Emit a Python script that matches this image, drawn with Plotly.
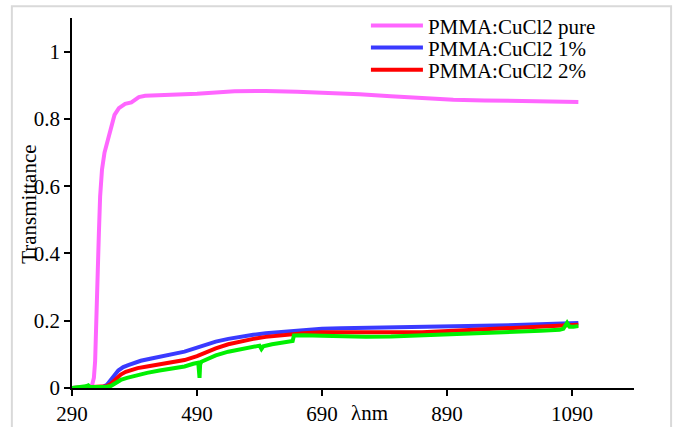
import plotly.graph_objects as go

# Transmittance spectra of PMMA:CuCl2 films
pure_wl = [290, 300, 310, 318, 322, 325, 327, 329, 331, 333, 335, 338, 342, 347, 352, 358,
           365, 375, 385, 391, 397, 407, 420, 450, 490, 550, 600, 650, 700, 750, 800, 850,
           900, 950, 1000, 1050, 1100]
pure_T = [0.0, 0.0, 0.0, 0.002, 0.008, 0.03, 0.08, 0.18, 0.32, 0.46, 0.57, 0.65, 0.7, 0.735,
          0.78, 0.812, 0.832, 0.845, 0.849, 0.856, 0.865, 0.869, 0.87, 0.871, 0.875, 0.882,
          0.883, 0.881, 0.878, 0.873, 0.867, 0.862, 0.857, 0.855, 0.853, 0.851, 0.85]

one_wl = [290, 310, 330, 340, 346, 352, 358, 364, 372, 380, 391, 400, 415, 430, 444, 470,
          490, 505, 520, 540, 560, 580, 600, 630, 660, 690, 720, 760, 800, 850, 900, 950,
          1000, 1050, 1100]
one_T = [0.0, 0.002, 0.003, 0.004, 0.01, 0.022, 0.038, 0.052, 0.062, 0.068, 0.076, 0.081,
         0.087, 0.092, 0.098, 0.108, 0.12, 0.13, 0.138, 0.146, 0.153, 0.158, 0.163, 0.168,
         0.172, 0.176, 0.178, 0.179, 0.18, 0.181, 0.183, 0.185, 0.187, 0.19, 0.193]

two_wl = [290, 310, 330, 345, 352, 360, 368, 376, 385, 395, 410, 430, 450, 470, 490, 505,
          520, 540, 560, 580, 600, 630, 660, 690, 720, 760, 800, 850, 900, 950, 1000, 1050,
          1100]
two_T = [0.0, 0.002, 0.003, 0.005, 0.012, 0.028, 0.04, 0.048, 0.054, 0.059, 0.064, 0.07,
         0.077, 0.083, 0.095, 0.107, 0.118, 0.13, 0.139, 0.146, 0.152, 0.158, 0.163, 0.166,
         0.166, 0.164, 0.164, 0.166, 0.17, 0.174, 0.178, 0.183, 0.188]

three_wl = [290, 300, 305, 308, 312, 316, 318, 322, 330, 345, 352, 360, 368, 378, 390, 410,
            430, 450, 470, 484, 492, 494, 495, 497, 505, 520, 540, 560, 580, 590, 593, 596,
            610, 630, 643, 645, 660, 690, 720, 760, 800, 850, 900, 950, 1000, 1040, 1070,
            1076, 1082, 1086, 1092, 1100]
three_T = [0.0, 0.002, 0.004, 0.002, 0.005, 0.008, 0.004, 0.003, 0.003, 0.004, 0.006, 0.014,
           0.024, 0.03, 0.036, 0.045, 0.052, 0.057, 0.064, 0.072, 0.075, 0.03, 0.07, 0.078,
           0.085, 0.097, 0.108, 0.115, 0.122, 0.126, 0.116, 0.124, 0.13, 0.136, 0.14, 0.156,
           0.157, 0.155, 0.153, 0.152, 0.153, 0.156, 0.16, 0.163, 0.166, 0.17, 0.173, 0.176,
           0.194, 0.182, 0.182, 0.184]

x_ticks = [290, 490, 690, 890, 1090]
y_ticks = [0, 0.2, 0.4, 0.6, 0.8, 1]
y_tick_text = ["0", "0.2", "0.4", "0.6", "0.8", "1"]

FONT = "Times New Roman, Liberation Serif, serif"
FS = 21

fig = go.Figure()
fig.add_trace(go.Scatter(x=pure_wl, y=pure_T, mode="lines", name="PMMA:CuCl2 pure",
                         line=dict(color="#ff66ff", width=4), legend="legend"))
fig.add_trace(go.Scatter(x=one_wl, y=one_T, mode="lines", name="PMMA:CuCl2 1%",
                         line=dict(color="#3a3aff", width=4), legend="legend2"))
fig.add_trace(go.Scatter(x=two_wl, y=two_T, mode="lines", name="PMMA:CuCl2 2%",
                         line=dict(color="#ff0000", width=4), legend="legend3"))
fig.add_trace(go.Scatter(x=three_wl, y=three_T, mode="lines", name="PMMA:CuCl2 3%",
                         line=dict(color="#00f000", width=4), showlegend=False))

leg_common = dict(x=0.523, xanchor="left", yanchor="middle", bgcolor="rgba(0,0,0,0)",
                  borderwidth=0, itemwidth=52, font=dict(family=FONT, size=FS, color="black"))

fig.update_layout(
    width=678, height=427,
    margin=dict(l=72, r=44, t=18, b=39, autoexpand=False),
    paper_bgcolor="white", plot_bgcolor="white",
    font=dict(family=FONT, size=FS, color="black"),
    legend=dict(y=0.979, **leg_common),
    legend2=dict(y=0.919, **leg_common),
    legend3=dict(y=0.859, **leg_common),
    xaxis=dict(range=[290, 1189], tickvals=x_ticks, showline=True, linecolor="black",
               linewidth=1.5, ticks="outside", ticklen=6, tickcolor="black", tickwidth=1.5,
               showgrid=False, zeroline=False, automargin=False,
               tickfont=dict(family=FONT, size=FS)),
    yaxis=dict(range=[0, 1.1], tickvals=y_ticks, ticktext=y_tick_text, showline=True,
               linecolor="black", linewidth=1.5, ticks="outside", ticklen=6,
               tickcolor="black", tickwidth=1.5, showgrid=False, zeroline=False,
               automargin=False, tickfont=dict(family=FONT, size=FS)),
    shapes=[dict(type="rect", xref="paper", yref="paper", x0=-0.107, x1=1.066,
                 y0=-0.12, y1=1.032, line=dict(color="#d9d9d9", width=2),
                 fillcolor="rgba(0,0,0,0)", layer="below")],
    annotations=[
        dict(text="Transmittance", xref="paper", yref="paper", x=-0.0765, y=0.495,
             textangle=-90, showarrow=False, xanchor="center", yanchor="middle",
             font=dict(family=FONT, size=FS)),
        dict(text="λnm", xref="x", yref="paper", x=733, y=-0.0676, showarrow=False,
             xanchor="left", yanchor="middle", font=dict(family=FONT, size=FS)),
    ],
)

fig.write_html("out.html")
